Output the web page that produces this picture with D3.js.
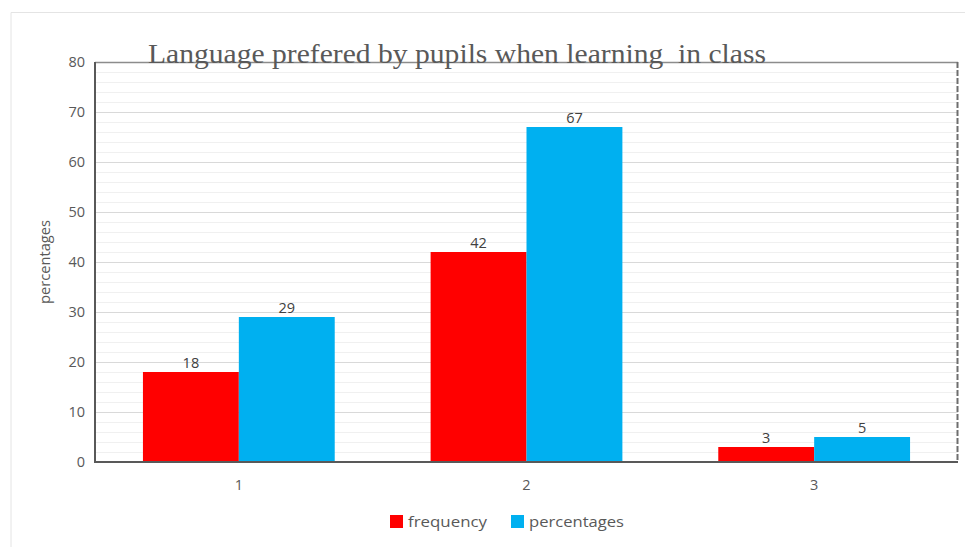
<!DOCTYPE html>
<html>
<head>
<meta charset="utf-8">
<script src="https://cdn.jsdelivr.net/npm/d3@7"></script>
<style>
  html, body { margin: 0; padding: 0; background: #fff; }
  svg { display: block; }
</style>
</head>
<body>
<svg id="chart" width="965" height="547"></svg>
<script>
const categories = ["1", "2", "3"];
const seriesNames = ["frequency", "percentages"];
const frequency = [18, 42, 3];
const percentages = [29, 67, 5];
const yTicks = [0, 10, 20, 30, 40, 50, 60, 70, 80];

const width = 965;
const height = 547;
const margin = { top: 62, right: 7, bottom: 85, left: 95 };
const colors = { frequency: "#ff0000", percentages: "#00b0f0" };
const textColor = "#595959";

const svg = d3.select("#chart");

// outer frame of the picture
svg.append("path")
    .attr("d", `M11,547 V12.5 H965`)
    .attr("fill", "none")
    .attr("stroke", "#e4e4e4")
    .attr("stroke-width", 1);

const x = d3.scaleBand()
    .domain(categories)
    .range([margin.left, width - margin.right])
    .paddingInner(1 / 3)
    .paddingOuter(1 / 6);

const xSeries = d3.scaleBand()
    .domain(seriesNames)
    .range([0, x.bandwidth()]);

const y = d3.scaleLinear()
    .domain([0, 80])
    .range([height - margin.bottom, margin.top]);

const plotLeft = margin.left;
const plotRight = width - margin.right;

// minor grid every 2
svg.append("g")
    .selectAll("line")
    .data(d3.range(2, 80, 2).filter(v => v % 10 !== 0))
    .join("line")
    .attr("x1", plotLeft).attr("x2", plotRight)
    .attr("y1", d => Math.round(y(d)) + 0.5).attr("y2", d => Math.round(y(d)) + 0.5)
    .attr("stroke", "#f0f0f0");

// major grid
svg.append("g")
    .selectAll("line")
    .data(yTicks.filter(v => v > 0 && v < 80))
    .join("line")
    .attr("x1", plotLeft).attr("x2", plotRight)
    .attr("y1", d => Math.round(y(d)) + 0.5).attr("y2", d => Math.round(y(d)) + 0.5)
    .attr("stroke", "#d9d9d9");

// top and right border of plot area
svg.append("line")
    .attr("x1", plotLeft).attr("x2", plotRight)
    .attr("y1", y(80) + 0.5).attr("y2", y(80) + 0.5)
    .attr("stroke", "#8c8c8c").attr("stroke-width", 1.5);
svg.append("line")
    .attr("x1", plotRight - 0.5).attr("x2", plotRight - 0.5)
    .attr("y1", y(80)).attr("y2", y(0))
    .attr("stroke", "#6e6e6e").attr("stroke-width", 2)
    .attr("stroke-dasharray", "6,2");

const data = categories.map((c, i) => ({
    cat: c,
    values: [
        { key: "frequency", value: frequency[i] },
        { key: "percentages", value: percentages[i] }
    ]
}));

const groups = svg.append("g")
    .selectAll("g")
    .data(data)
    .join("g")
    .attr("transform", d => `translate(${x(d.cat)},0)`);

groups.selectAll("rect")
    .data(d => d.values)
    .join("rect")
    .attr("x", d => xSeries(d.key))
    .attr("y", d => y(d.value))
    .attr("width", xSeries.bandwidth())
    .attr("height", d => y(0) - y(d.value))
    .attr("fill", d => colors[d.key]);

groups.selectAll("text")
    .data(d => d.values)
    .join("text")
    .attr("x", d => xSeries(d.key) + xSeries.bandwidth() / 2)
    .attr("y", d => y(d.value) - 4)
    .attr("text-anchor", "middle")
    .attr("font-family", "'Open Sans', sans-serif")
    .attr("font-size", 14.5)
    .attr("fill", "#404040")
    .text(d => d.value);

// axes lines
svg.append("line")
    .attr("x1", plotLeft).attr("x2", plotLeft)
    .attr("y1", y(80)).attr("y2", y(0) + 1)
    .attr("stroke", "#595959").attr("stroke-width", 2);
svg.append("line")
    .attr("x1", plotLeft).attr("x2", plotRight)
    .attr("y1", y(0)).attr("y2", y(0))
    .attr("stroke", "#595959").attr("stroke-width", 2);

// y axis labels
const yAxis = d3.axisLeft(y).tickValues(yTicks).tickSize(0).tickPadding(10);
svg.append("g")
    .attr("transform", `translate(${plotLeft},0)`)
    .call(yAxis)
    .call(g => g.select(".domain").remove())
    .call(g => g.selectAll("text")
        .attr("font-family", "'Open Sans', sans-serif")
        .attr("font-size", 14.5)
        .attr("fill", textColor));

// x axis labels
const xAxis = d3.axisBottom(x).tickSize(0).tickPadding(18);
svg.append("g")
    .attr("transform", `translate(0,${y(0)})`)
    .call(xAxis)
    .call(g => g.select(".domain").remove())
    .call(g => g.selectAll("text")
        .attr("font-family", "'Open Sans', sans-serif")
        .attr("font-size", 14.5)
        .attr("fill", textColor));

// title
svg.append("text")
    .attr("x", 148)
    .attr("y", 63)
    .attr("font-family", "'Liberation Serif', 'Times New Roman', serif")
    .attr("font-size", 28)
    .attr("fill", textColor)
    .attr("textLength", 618)
    .attr("lengthAdjust", "spacingAndGlyphs")
    .style("white-space", "pre")
    .text("Language prefered by pupils when learning  in class");

// y axis title
svg.append("text")
    .attr("transform", "translate(50,262) rotate(-90)")
    .attr("text-anchor", "middle")
    .attr("font-family", "'Open Sans', sans-serif")
    .attr("font-size", 14)
    .attr("fill", textColor)
    .attr("textLength", 84)
    .attr("lengthAdjust", "spacingAndGlyphs")
    .text("percentages");

// legend
const legend = svg.append("g").attr("transform", "translate(390,522)");
const legendX = [0, 121];
const legendLen = [79, 95];
seriesNames.forEach((name, i) => {
    const item = legend.append("g").attr("transform", `translate(${legendX[i]},0)`);
    item.append("rect")
        .attr("x", 0).attr("y", -7)
        .attr("width", 13).attr("height", 13)
        .attr("fill", colors[name]);
    item.append("text")
        .attr("x", 18).attr("y", 5)
        .attr("font-family", "'Open Sans', sans-serif")
        .attr("font-size", 15)
        .attr("fill", textColor)
        .attr("textLength", legendLen[i])
        .attr("lengthAdjust", "spacingAndGlyphs")
        .text(name);
});
</script>
</body>
</html>
